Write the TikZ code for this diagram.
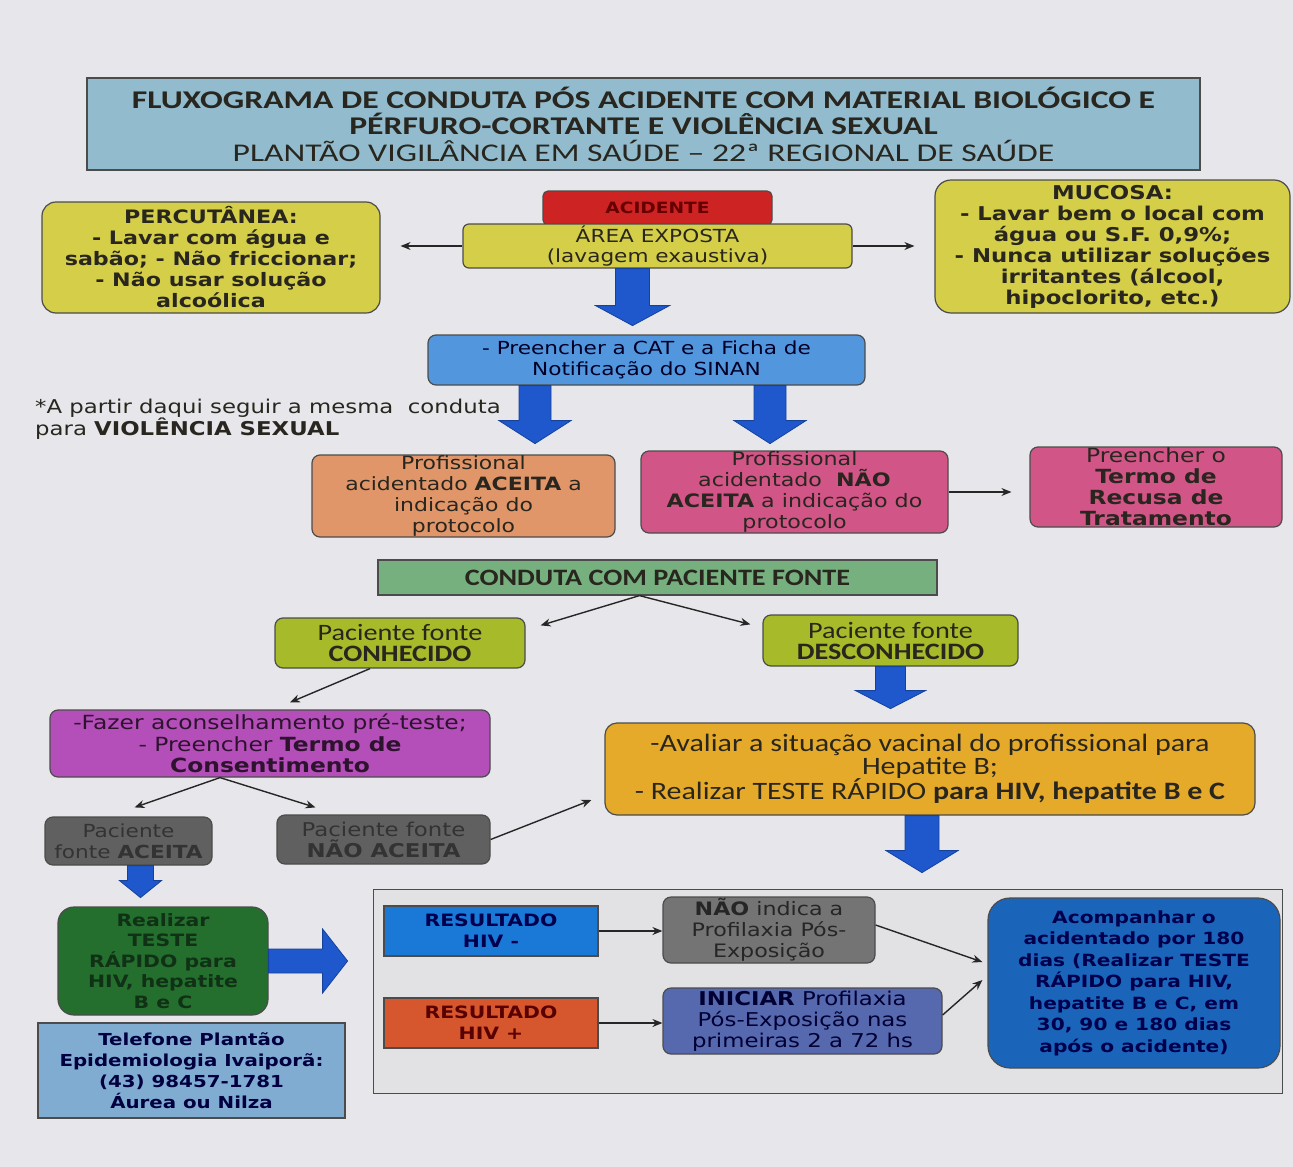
\documentclass[tikz,border=0pt]{standalone}
\usepackage{fontspec}
\setmainfont[FakeStretch=1.2]{Carlito}
\newfontfamily\titf[FakeStretch=1.32]{Carlito}
\newfontfamily\dv[FakeStretch=1.2]{DejaVu Sans}
\usetikzlibrary{arrows.meta,calc}
\definecolor{bgc}{RGB}{231,231,235}
\definecolor{titb}{RGB}{146,188,206}
\definecolor{redb}{RGB}{205,35,35}
\definecolor{yelb}{RGB}{212,206,72}
\definecolor{catb}{RGB}{82,150,222}
\definecolor{orab}{RGB}{225,150,105}
\definecolor{pinb}{RGB}{210,85,135}
\definecolor{grnb}{RGB}{118,176,126}
\definecolor{olvb}{RGB}{166,186,42}
\definecolor{purb}{RGB}{180,78,185}
\definecolor{gryb}{RGB}{96,96,96}
\definecolor{gldb}{RGB}{230,170,42}
\definecolor{dgrb}{RGB}{36,110,46}
\definecolor{phob}{RGB}{128,172,210}
\definecolor{frmb}{RGB}{226,226,229}
\definecolor{negb}{RGB}{26,120,215}
\definecolor{posb}{RGB}{214,86,46}
\definecolor{ninb}{RGB}{116,116,116}
\definecolor{inib}{RGB}{86,104,174}
\definecolor{acob}{RGB}{26,100,186}
\definecolor{arrb}{RGB}{30,88,204}
\definecolor{txt}{RGB}{40,38,30}
\tikzset{
 bx/.style={draw=black!70, line width=1.2pt, rounded corners=8pt, align=center, inner sep=0pt, text=txt},
 sq/.style={draw=black!70, line width=1.2pt, align=center, inner sep=0pt, text=txt},
 ln/.style={draw=black!85, line width=1.4pt, -{Stealth[length=10pt,width=8pt]}},
 bigarr/.style={fill=arrb, draw=arrb!75!black, line width=0.8pt},
}
\newcommand\bigdown[5]{\filldraw[bigarr] #1 ++(-#2,0) -- ++(0,#4) -- ++(#2-#3,0) -- ++(#3,#5) -- ++(#3,-#5) -- ++(#2-#3,0) -- ++(0,-#4) -- cycle;}
\newcommand\bigright[5]{\filldraw[bigarr] #1 ++(0,-#2) -- ++(#4,0) -- ++(0,#2-#3) -- ++(#5,#3) -- ++(-#5,#3) -- ++(0,#2-#3) -- ++(-#4,0) -- cycle;}
\begin{document}
\begin{tikzpicture}[x=1pt,y=-1pt]
\fill[bgc] (0,0) rectangle (1293,1167);
\useasboundingbox (0,0) rectangle (1293,1167);

% title
\node[sq, fill=titb, minimum width=1113pt, minimum height=92pt, font=\titf\fontsize{25.5}{26.5}\selectfont] (title) at (643.5,124)
 {\textbf{FLUXOGRAMA DE CONDUTA PÓS ACIDENTE COM MATERIAL BIOLÓGICO E}\\\textbf{PÉRFURO-CORTANTE E VIOLÊNCIA SEXUAL}\\PLANTÃO VIGILÂNCIA EM SAÚDE – 22ª REGIONAL DE SAÚDE};

% accident
\node[bx, rounded corners=5pt, fill=redb, minimum width=229pt, minimum height=34pt, text=red!40!black, font=\dv\bfseries\fontsize{15.5}{15.5}\selectfont] (acid) at (657.5,208) {ACIDENTE};
\node[bx, rounded corners=6pt, fill=yelb, minimum width=389pt, minimum height=44pt, font=\dv\fontsize{18}{20}\selectfont] (area) at (657.5,246) {ÁREA EXPOSTA\\(lavagem exaustiva)};

\node[bx, rounded corners=14pt, fill=yelb, minimum width=338pt, minimum height=111pt, font=\dv\bfseries\fontsize{18.5}{21}\selectfont] (perc) at (211,257.5)
 {PERCUTÂNEA:\\- Lavar com água e\\sabão; - Não friccionar;\\- Não usar solução\\alcoólica};
\node[bx, rounded corners=16pt, fill=yelb, minimum width=355pt, minimum height=133pt, font=\dv\bfseries\fontsize{19}{21}\selectfont] (muc) at (1112.5,246.5)
 {MUCOSA:\\- Lavar bem o local com\\água ou S.F. 0,9\%;\\- Nunca utilizar soluções\\irritantes (álcool,\\hipoclorito, etc.)};

\draw[ln, shorten >=20pt] (area.west) -- (area.west -| perc.east);
\draw[ln, shorten >=20pt] (area.east) -- (area.east -| muc.west);
\bigdown{([xshift=-25pt]area.south)}{17}{37}{37}{20}

\node[bx, fill=catb, minimum width=437pt, minimum height=50pt, text=blue!15!black, font=\dv\fontsize{18}{21}\selectfont] (cat) at (646.5,360)
 {- Preencher a CAT e a Ficha de\\Notificação do SINAN};
\bigdown{([xshift=-111.5pt]cat.south)}{16}{36}{35}{23}
\bigdown{([xshift=123.5pt]cat.south)}{16}{36}{35}{23}

\node[anchor=north west, align=left, inner sep=0pt, text=txt, font=\dv\fontsize{19}{22}\selectfont] (note) at (35,399)
 {*A partir daqui seguir a mesma\ \ conduta\\para \textbf{VIOLÊNCIA SEXUAL}};

\node[bx, fill=orab, minimum width=303pt, minimum height=82pt, font=\dv\fontsize{18.3}{21}\selectfont] (acei) at (463.5,496)
 {Profissional\\acidentado \textbf{ACEITA} a\\indicação do\\protocolo};
\node[bx, fill=pinb, minimum width=307pt, minimum height=82pt, font=\dv\fontsize{18.5}{21}\selectfont] (nacei) at (794.5,492)
 {Profissional\\acidentado\ \ \textbf{NÃO}\\\textbf{ACEITA} a indicação do\\protocolo};
\node[bx, fill=pinb, minimum width=252pt, minimum height=80pt, font=\dv\fontsize{19.5}{21}\selectfont] (recusa) at (1156,487)
 {Preencher o\\\textbf{Termo de}\\\textbf{Recusa de}\\\textbf{Tratamento}};
\draw[ln, shorten >=18pt] (nacei.east) -- (nacei.east -| recusa.west);

\node[sq, fill=grnb, minimum width=559pt, minimum height=35pt, font=\bfseries\fontsize{23.5}{21}\selectfont] (conduta) at (657.5,577.5) {CONDUTA COM PACIENTE FONTE};
\node[bx, fill=olvb, minimum width=250pt, minimum height=50pt, font=\fontsize{23.5}{21}\selectfont] (conh) at (400,643) {Paciente fonte\\\textbf{CONHECIDO}};
\node[bx, fill=olvb, minimum width=255pt, minimum height=51pt, font=\fontsize{23.5}{21}\selectfont] (desc) at (890.5,640.5) {Paciente fonte\\\textbf{DESCONHECIDO}};
\draw[ln] ([xshift=-18pt]conduta.south) -- ($(conh.north east)+(15,8)$);
\draw[ln] ([xshift=-18pt]conduta.south) -- ($(desc.north west)+(-12,10)$);
\bigdown{(desc.south)}{15}{35}{24}{18}

\node[bx, fill=purb, minimum width=440pt, minimum height=67pt, text=purb!25!black, font=\dv\fontsize{19.5}{21.5}\selectfont] (acon) at (270,743.5)
 {-Fazer aconselhamento pré-teste;\\- Preencher \textbf{Termo de}\\\textbf{Consentimento}};
\draw[ln] ($(conh.south)+(-30,0)$) -- ($(acon.north)+(20,-7)$);

\node[bx, fill=gryb, minimum width=167pt, minimum height=48pt, text=black!80, font=\dv\fontsize{18}{21}\selectfont] (gacc) at (128.5,841) {Paciente\\fonte \textbf{ACEITA}};
\node[bx, fill=gryb, minimum width=213pt, minimum height=49pt, text=black!80, font=\dv\fontsize{19}{21}\selectfont] (gnac) at (383.5,839.5) {Paciente fonte\\\textbf{NÃO ACEITA}};
\draw[ln] ([xshift=-50pt]acon.south) -- ($(gacc.north)+(6,-9)$);
\draw[ln] ([xshift=-50pt]acon.south) -- ($(gnac.north)+(-68,-7)$);

\node[bx, rounded corners=12pt, fill=gldb, minimum width=650pt, minimum height=92pt, font=\fontsize{25}{22.5}\selectfont] (gold) at (930,769)
 {-Avaliar a situação vacinal do profissional para\\Hepatite B;\\- Realizar TESTE RÁPIDO \textbf{para HIV, hepatite B e C}};
\draw[ln] (gnac.east) -- ($(gold.west)+(-13,31)$);
\bigdown{([xshift=-8pt]gold.south)}{17}{36}{35}{22}
\bigdown{([xshift=12pt]gacc.south)}{13}{21}{15}{17}

\node[bx, rounded corners=16pt, fill=dgrb, minimum width=210pt, minimum height=108pt, text=dgrb!45!black, font=\dv\bfseries\fontsize{17}{20.5}\selectfont] (grn) at (163,961)
 {Realizar\\TESTE\\RÁPIDO para\\HIV, hepatite\\B e C};
\bigright{(grn.east)}{12}{32}{54}{25}

\node[sq, fill=phob, minimum width=307pt, minimum height=95pt, text=blue!25!black, font=\dv\bfseries\fontsize{16.5}{21}\selectfont] (phone) at (191.5,1070.5)
 {Telefone Plantão\\Epidemiologia Ivaiporã:\\(43) 98457-1781\\Áurea ou Nilza};

\node[sq, line width=1pt, fill=frmb, minimum width=909pt, minimum height=204pt] (frame) at (827.5,991) {};
\node[sq, fill=negb, minimum width=214pt, minimum height=50pt, text=blue!30!black, font=\dv\bfseries\fontsize{17}{21}\selectfont] (hneg) at (491,931) {RESULTADO\\HIV -};
\node[sq, fill=posb, minimum width=214pt, minimum height=50pt, text=red!35!black, font=\dv\bfseries\fontsize{17}{21}\selectfont] (hpos) at (491,1023) {RESULTADO\\HIV +};
\node[bx, fill=ninb, minimum width=212pt, minimum height=66pt, text=black!85, font=\dv\fontsize{18.5}{21}\selectfont] (nind) at (769,930)
 {\textbf{NÃO} indica a\\Profilaxia Pós-\\Exposição};
\node[bx, fill=inib, minimum width=279pt, minimum height=66pt, text=blue!20!black, font=\dv\fontsize{19}{21}\selectfont] (inic) at (802.5,1021)
 {\textbf{INICIAR} Profilaxia\\Pós-Exposição nas\\primeiras 2 a 72 hs};
\node[bx, rounded corners=22pt, fill=acob, minimum width=292pt, minimum height=170pt, text=blue!30!black, font=\dv\bfseries\fontsize{16.8}{21.5}\selectfont] (acomp) at (1134,983)
 {Acompanhar o\\acidentado por 180\\dias (Realizar TESTE\\RÁPIDO para HIV,\\hepatite B e C, em\\30, 90 e 180 dias\\após o acidente)};
\draw[ln] (hneg.east) -- (hneg.east -| nind.west);
\draw[ln] (hpos.east) -- (hpos.east -| inic.west);
\draw[ln] ($(nind.east)+(0,-5)$) -- ($(acomp.west)+(-5,-21)$);
\draw[ln] ($(inic.east)+(0,-6)$) -- ($(acomp.west)+(-5,-3)$);
\end{tikzpicture}
\end{document}
